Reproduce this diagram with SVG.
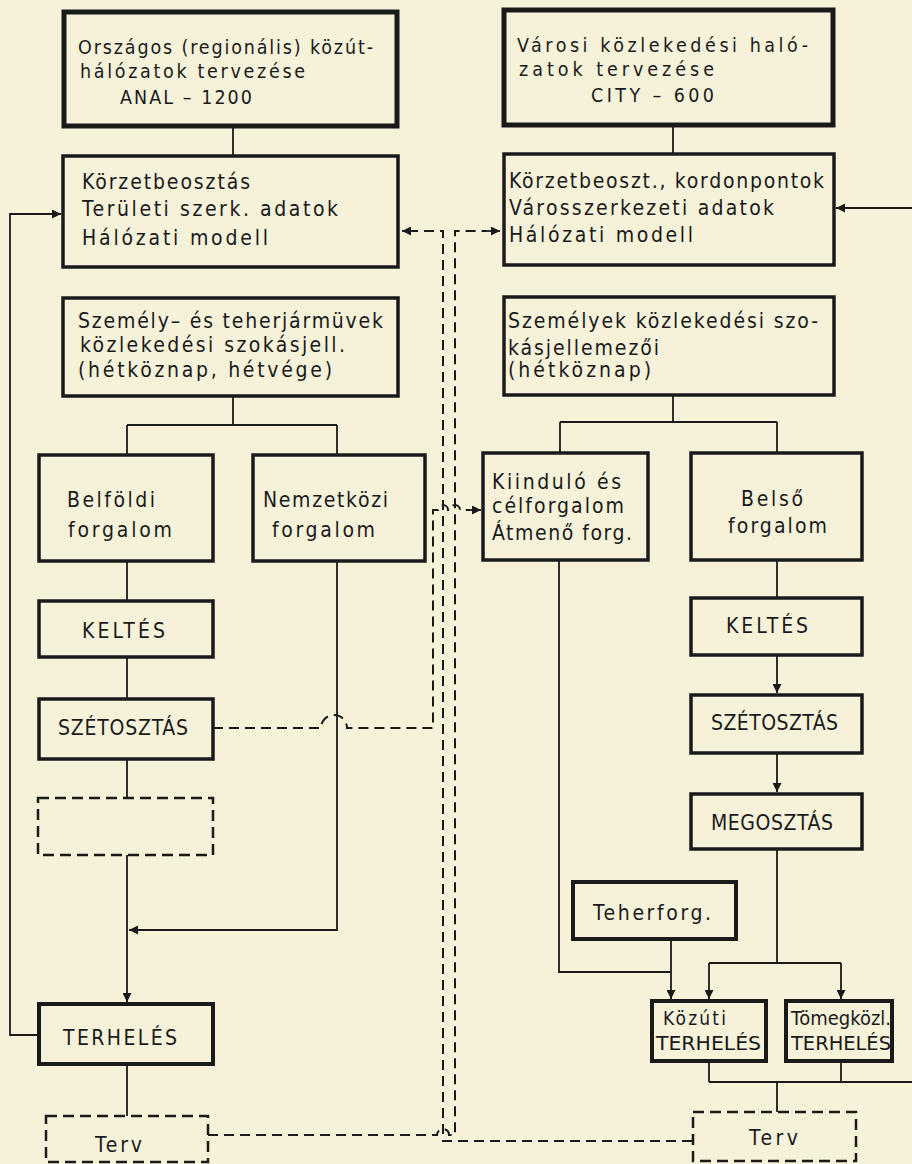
<svg xmlns="http://www.w3.org/2000/svg" width="912" height="1164" viewBox="0 0 912 1164">
<defs>
<style>
.bg{fill:#f6f2da}
.b5{fill:none;stroke:#1a1a1a;stroke-width:5}
.b4{fill:none;stroke:#1a1a1a;stroke-width:4}
.b3{fill:none;stroke:#1a1a1a;stroke-width:3.5}
.db{fill:none;stroke:#1a1a1a;stroke-width:2.5;stroke-dasharray:11 6}
.c{fill:none;stroke:#1a1a1a;stroke-width:1.8}
.d{fill:none;stroke:#1a1a1a;stroke-width:2;stroke-dasharray:10 6}
text{font-family:"DejaVu Sans Condensed","DejaVu Sans",sans-serif;font-size:21px;fill:#1a1a1a}
.s{font-size:19px}
.t{font-size:19.5px}
</style>
<marker id="ah" viewBox="0 0 10 10" refX="10" refY="5" markerWidth="11" markerHeight="9" markerUnits="userSpaceOnUse" orient="auto">
<path d="M0,0 L10,5 L0,10 z" fill="#1a1a1a" stroke="none"/>
</marker>
</defs>
<rect class="bg" x="0" y="0" width="912" height="1164"/>

<g id="connectors">
<path class="c" d="M233 126 V156"/>
<path class="c" d="M233 396 V425 M127 425 H337 M127 425 V455 M337 425 V455"/>
<path class="c" d="M127 561 V601"/>
<path class="c" d="M127 657 V699"/>
<path class="c" d="M127 759 V798"/>
<path class="c" d="M127 855 V1002" marker-end="url(#ah)"/>
<path class="c" d="M337 561 V930 H129" marker-end="url(#ah)"/>
<path class="c" d="M39 1035 H10 V214 H61" marker-end="url(#ah)"/>
<path class="c" d="M127 1064 V1116"/>
<path class="c" d="M673 125 V154"/>
<path class="c" d="M673 395 V422 M560 422 H777 M560 422 V453 M777 422 V453"/>
<path class="c" d="M777 560 V598"/>
<path class="c" d="M777 655 V693" marker-end="url(#ah)"/>
<path class="c" d="M777 753 V792" marker-end="url(#ah)"/>
<path class="c" d="M777 849 V963 M709 963 H841"/>
<path class="c" d="M709 963 V999" marker-end="url(#ah)"/>
<path class="c" d="M841 963 V999" marker-end="url(#ah)"/>
<path class="c" d="M559 560 V972 H671"/>
<path class="c" d="M671 939 V999" marker-end="url(#ah)"/>
<path class="c" d="M912 208 H836" marker-end="url(#ah)"/>
<path class="c" d="M709 1061 V1082 M841 1061 V1082 M709 1082 H912 M777 1082 V1112"/>
<path class="d" d="M213 728 H321 A13 13 0 0 1 347 728 H433 V510 H438 A5 5 0 0 1 448 510 H450 A5 5 0 0 1 460 510 H470"/>
<path class="c" d="M466 510 H481" marker-end="url(#ah)"/>
<path class="d" d="M692 1141 H443 V231 H412"/>
<path class="c" d="M414 231 H402" marker-end="url(#ah)"/>
<path class="d" d="M208 1135 H437 A6 6 0 0 1 449 1135 H455 V231 H486"/>
<path class="c" d="M484 231 H500" marker-end="url(#ah)"/>
</g>

<g id="n1">
<rect class="b5" x="64" y="12" width="333" height="114"/>
<text class="t" x="78" y="54" textLength="295" lengthAdjust="spacing">Országos (regionális) közút-</text>
<text class="t" x="80" y="78" textLength="225" lengthAdjust="spacing">hálózatok tervezése</text>
<text class="t" x="120" y="104" textLength="132" lengthAdjust="spacing">ANAL – 1200</text>
</g>
<g id="n2">
<rect class="b3" x="63" y="156" width="335" height="111"/>
<text x="82" y="189" textLength="168" lengthAdjust="spacing">Körzetbeosztás</text>
<text x="82" y="216" textLength="256" lengthAdjust="spacing">Területi szerk. adatok</text>
<text x="82" y="245" textLength="186" lengthAdjust="spacing">Hálózati modell</text>
</g>
<g id="n3">
<rect class="b3" x="63" y="298" width="335" height="98"/>
<text x="78" y="328" textLength="305" lengthAdjust="spacing">Személy– és teherjármüvek</text>
<text x="80" y="352" textLength="265" lengthAdjust="spacing">közlekedési szokásjell.</text>
<text x="78" y="377" textLength="254" lengthAdjust="spacing">(hétköznap, hétvége)</text>
</g>
<g id="n4">
<rect class="b3" x="39" y="455" width="174" height="106"/>
<text x="67" y="507" textLength="88" lengthAdjust="spacing">Belföldi</text>
<text x="68" y="537" textLength="104" lengthAdjust="spacing">forgalom</text>
</g>
<g id="n5">
<rect class="b3" x="253" y="455" width="172" height="106"/>
<text x="263" y="507" textLength="125" lengthAdjust="spacing">Nemzetközi</text>
<text x="272" y="537" textLength="103" lengthAdjust="spacing">forgalom</text>
</g>
<g id="n6">
<rect class="b3" x="39" y="601" width="174" height="56"/>
<text x="82" y="638" textLength="83" lengthAdjust="spacing">KELTÉS</text>
</g>
<g id="n7">
<rect class="b3" x="39" y="699" width="174" height="60"/>
<text x="58" y="735" textLength="130" lengthAdjust="spacing">SZÉTOSZTÁS</text>
</g>
<g id="n8">
<rect class="db" x="38" y="798" width="175" height="57"/>
</g>
<g id="n9">
<rect class="b4" x="39" y="1004" width="174" height="60"/>
<text x="63" y="1045" textLength="114" lengthAdjust="spacing">TERHELÉS</text>
</g>
<g id="n10">
<rect class="db" x="46" y="1116" width="162" height="46"/>
<text x="95" y="1152" textLength="47" lengthAdjust="spacing">Terv</text>
</g>

<g id="r1">
<rect class="b5" x="504" y="10" width="329" height="115"/>
<text class="t" x="517" y="52" textLength="291" lengthAdjust="spacing">Városi közlekedési haló-</text>
<text class="t" x="519" y="76" textLength="195" lengthAdjust="spacing">zatok tervezése</text>
<text class="t" x="591" y="102" textLength="123" lengthAdjust="spacing">CITY – 600</text>
</g>
<g id="r2">
<rect class="b3" x="504" y="154" width="330" height="111"/>
<text x="509" y="188" textLength="315" lengthAdjust="spacing">Körzetbeoszt., kordonpontok</text>
<text x="509" y="215" textLength="265" lengthAdjust="spacing">Városszerkezeti adatok</text>
<text x="509" y="242" textLength="184" lengthAdjust="spacing">Hálózati modell</text>
</g>
<g id="r3">
<rect class="b3" x="504" y="297" width="330" height="98"/>
<text x="508" y="328" textLength="310" lengthAdjust="spacing">Személyek közlekedési szo-</text>
<text x="508" y="355" textLength="151" lengthAdjust="spacing">kásjellemezői</text>
<text x="508" y="377" textLength="143" lengthAdjust="spacing">(hétköznap)</text>
</g>
<g id="r4">
<rect class="b3" x="483" y="453" width="165" height="107"/>
<text x="492" y="489" textLength="129" lengthAdjust="spacing">Kiinduló és</text>
<text x="492" y="513" textLength="132" lengthAdjust="spacing">célforgalom</text>
<text x="492" y="540" textLength="140" lengthAdjust="spacing">Átmenő forg.</text>
</g>
<g id="r5">
<rect class="b3" x="691" y="453" width="171" height="107"/>
<text x="741" y="506" textLength="62" lengthAdjust="spacing">Belső</text>
<text x="728" y="533" textLength="99" lengthAdjust="spacing">forgalom</text>
</g>
<g id="r6">
<rect class="b3" x="691" y="598" width="171" height="57"/>
<text x="726" y="633" textLength="82" lengthAdjust="spacing">KELTÉS</text>
</g>
<g id="r7">
<rect class="b3" x="691" y="695" width="171" height="58"/>
<text x="711" y="730" textLength="127" lengthAdjust="spacing">SZÉTOSZTÁS</text>
</g>
<g id="r8">
<rect class="b3" x="691" y="794" width="171" height="55"/>
<text x="711" y="830" textLength="122" lengthAdjust="spacing">MEGOSZTÁS</text>
</g>
<g id="r9">
<rect class="b4" x="573" y="882" width="163" height="57"/>
<text x="593" y="920" textLength="118" lengthAdjust="spacing">Teherforg.</text>
</g>
<g id="r10">
<rect class="b4" x="652" y="1001" width="114" height="60"/>
<text class="s" x="663" y="1025" textLength="63" lengthAdjust="spacing">Közúti</text>
<text class="s" x="656" y="1050" textLength="105" lengthAdjust="spacingAndGlyphs">TERHELÉS</text>
</g>
<g id="r11">
<rect class="b4" x="786" y="1001" width="106" height="60"/>
<text class="s" x="791" y="1025" textLength="100" lengthAdjust="spacingAndGlyphs">Tömegközl.</text>
<text class="s" x="791" y="1050" textLength="100" lengthAdjust="spacingAndGlyphs">TERHELÉS</text>
</g>
<g id="r12">
<rect class="db" x="693" y="1112" width="163" height="49"/>
<text x="749" y="1145" textLength="49" lengthAdjust="spacing">Terv</text>
</g>
</svg>
